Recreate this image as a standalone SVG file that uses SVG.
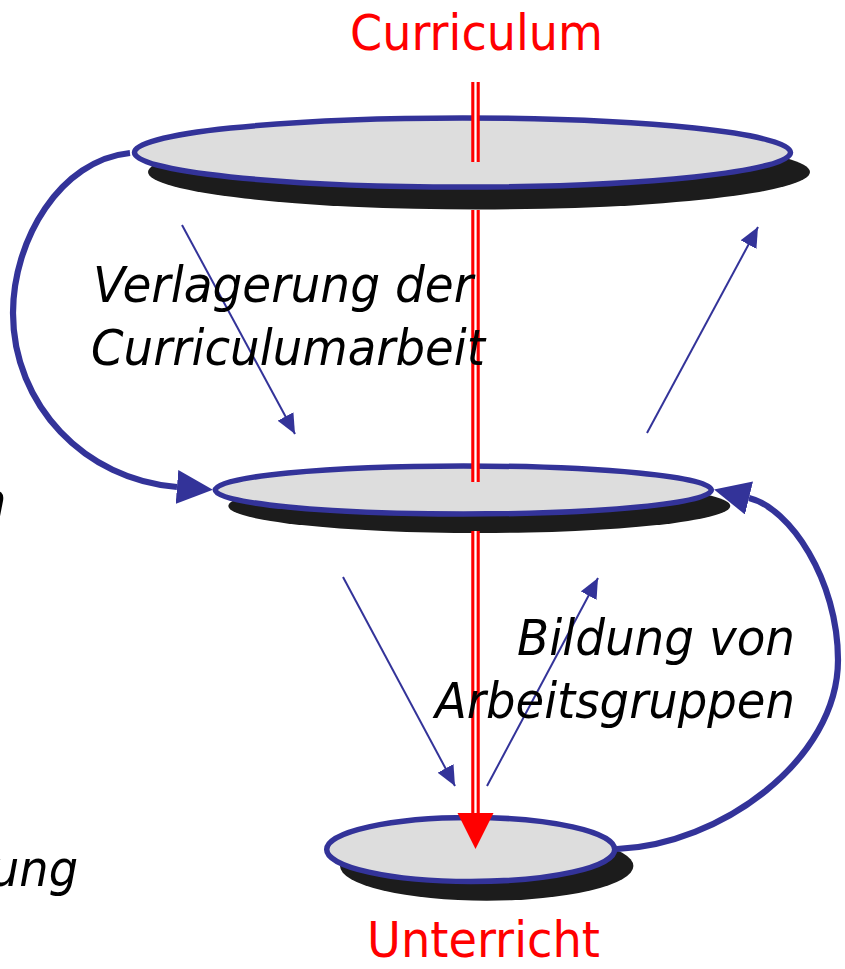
<svg xmlns="http://www.w3.org/2000/svg" width="845" height="969" viewBox="0 0 845 969">
<style>
.disc{fill:#DDDDDD;stroke:#333399;stroke-width:5.5}
.shadow{fill:#1C1C1C}
.thick{fill:none;stroke:#333399;stroke-width:6.2}
.thin{fill:none;stroke:#333399;stroke-width:2}
.redline{stroke:#FF0000;stroke-width:8.5;fill:none}
.gap{stroke:#FFFFFF;stroke-width:2.3;fill:none}
.title{font-family:"DejaVu Sans",Verdana,sans-serif;font-size:49px;fill:#FF0000}
.label{font-family:"DejaVu Sans",Verdana,sans-serif;font-size:50px;font-style:italic;fill:#000000}
</style>
<defs>
<marker id="bigHead" markerUnits="userSpaceOnUse" viewBox="0 0 36 34" refX="0" refY="17" markerWidth="36" markerHeight="34" orient="auto">
<path d="M0,0 L36,17 L0,34 z" fill="#333399"/>
</marker>
<marker id="smallHead" markerUnits="userSpaceOnUse" viewBox="0 0 20 18" refX="20" refY="9" markerWidth="20" markerHeight="18" orient="auto">
<path d="M0,0 L20,9 L0,18 z" fill="#333399"/>
</marker>
</defs>

<g id="node-top">
<ellipse class="shadow" cx="479" cy="172" rx="331" ry="37.5"/>
<ellipse class="disc" cx="462.5" cy="152.5" rx="328" ry="34.5"/>
</g>
<g id="node-middle">
<ellipse class="shadow" cx="479.3" cy="506" rx="251" ry="27"/>
<ellipse class="disc" cx="463.3" cy="490" rx="248" ry="24"/>
</g>
<g id="node-bottom">
<ellipse class="shadow" cx="486.7" cy="866" rx="146.7" ry="34.7"/>
<ellipse class="disc" cx="470.7" cy="849.5" rx="144" ry="32"/>
</g>

<g id="connectors">
<path class="thick" d="M130,153 C60,160 13,240 13,313 C13,405 85,480 177,487" marker-end="url(#bigHead)"/>
<path class="thick" d="M617,849 C720,845 838,760 838,660 C838,580 790,508 749,498" marker-end="url(#bigHead)"/>
<line class="thin" x1="182" y1="225" x2="295" y2="434" marker-end="url(#smallHead)"/>
<line class="thin" x1="647" y1="433" x2="758" y2="227" marker-end="url(#smallHead)"/>
<line class="thin" x1="343" y1="577" x2="455" y2="786" marker-end="url(#smallHead)"/>
<line class="thin" x1="487" y1="786" x2="598" y2="578" marker-end="url(#smallHead)"/>
<g id="red-axis">
<line class="redline" x1="475.5" y1="82" x2="475.5" y2="162"/>
<line class="gap" x1="475.5" y1="82" x2="475.5" y2="162"/>
<line class="redline" x1="475.5" y1="210" x2="475.5" y2="482"/>
<line class="gap" x1="475.5" y1="210" x2="475.5" y2="482"/>
<line class="redline" x1="475.5" y1="531" x2="475.5" y2="814"/>
<line class="gap" x1="475.5" y1="531" x2="475.5" y2="814"/>
<polygon points="457.5,813 493.5,813 475.5,849" fill="#FF0000"/>
</g>
</g>

<g id="labels">
<text class="title" x="350" y="50" textLength="253" lengthAdjust="spacingAndGlyphs">Curriculum</text>
<text class="title" x="367" y="957" textLength="233" lengthAdjust="spacingAndGlyphs">Unterricht</text>
<text class="label" x="93" y="302" textLength="380" lengthAdjust="spacingAndGlyphs">Verlagerung der</text>
<text class="label" x="91" y="365" textLength="394" lengthAdjust="spacingAndGlyphs">Curriculumarbeit</text>
<text class="label" x="795" y="655" text-anchor="end" textLength="278" lengthAdjust="spacingAndGlyphs">Bildung von</text>
<text class="label" x="795" y="718" text-anchor="end" textLength="360" lengthAdjust="spacingAndGlyphs">Arbeitsgruppen</text>
<text class="label" x="-25" y="518">n</text>
<text class="label" x="-10" y="886" textLength="88" lengthAdjust="spacingAndGlyphs">ung</text>
</g>
</svg>
